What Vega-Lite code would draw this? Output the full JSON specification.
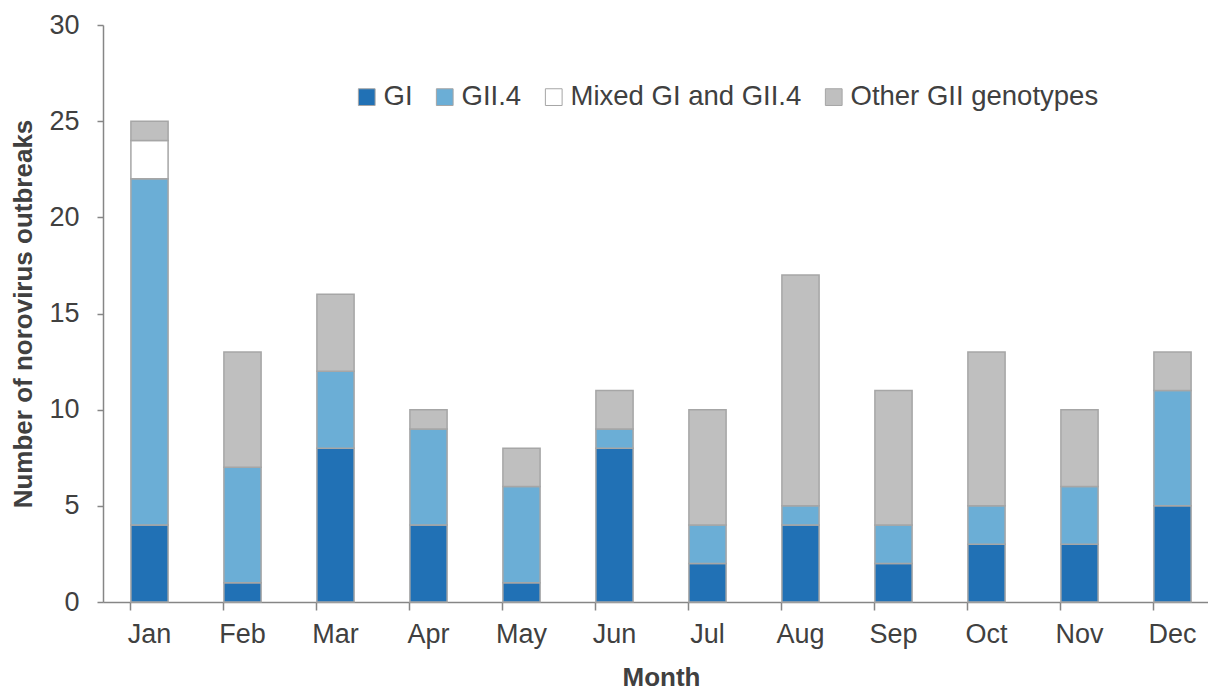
{
  "$schema": "https://vega.github.io/schema/vega-lite/v6.json",
  "autosize": {"type": "none"},
  "padding": {"left": 103, "top": 25, "right": 0, "bottom": 90},
  "width": 1105,
  "height": 577,
  "background": "white",
  "config": {
    "view": {"stroke": null},
    "font": "Liberation Sans",
    "axis": {"grid": false, "domainColor": "#868686", "tickColor": "#868686", "domainWidth": 1.5, "tickWidth": 1.5, "labelColor": "#404040", "titleColor": "#404040", "labelFontSize": 27, "titleFontSize": 26, "titleFontWeight": "bold", "labelFont": "Liberation Sans", "titleFont": "Liberation Sans"}
  },
  "data": {
    "values": [
      {"month": "Jan", "type": "GI", "n": 4},
      {"month": "Jan", "type": "GII.4", "n": 18},
      {"month": "Jan", "type": "Mixed GI and GII.4", "n": 2},
      {"month": "Jan", "type": "Other GII genotypes", "n": 1},
      {"month": "Feb", "type": "GI", "n": 1},
      {"month": "Feb", "type": "GII.4", "n": 6},
      {"month": "Feb", "type": "Other GII genotypes", "n": 6},
      {"month": "Mar", "type": "GI", "n": 8},
      {"month": "Mar", "type": "GII.4", "n": 4},
      {"month": "Mar", "type": "Other GII genotypes", "n": 4},
      {"month": "Apr", "type": "GI", "n": 4},
      {"month": "Apr", "type": "GII.4", "n": 5},
      {"month": "Apr", "type": "Other GII genotypes", "n": 1},
      {"month": "May", "type": "GI", "n": 1},
      {"month": "May", "type": "GII.4", "n": 5},
      {"month": "May", "type": "Other GII genotypes", "n": 2},
      {"month": "Jun", "type": "GI", "n": 8},
      {"month": "Jun", "type": "GII.4", "n": 1},
      {"month": "Jun", "type": "Other GII genotypes", "n": 2},
      {"month": "Jul", "type": "GI", "n": 2},
      {"month": "Jul", "type": "GII.4", "n": 2},
      {"month": "Jul", "type": "Other GII genotypes", "n": 6},
      {"month": "Aug", "type": "GI", "n": 4},
      {"month": "Aug", "type": "GII.4", "n": 1},
      {"month": "Aug", "type": "Other GII genotypes", "n": 12},
      {"month": "Sep", "type": "GI", "n": 2},
      {"month": "Sep", "type": "GII.4", "n": 2},
      {"month": "Sep", "type": "Other GII genotypes", "n": 7},
      {"month": "Oct", "type": "GI", "n": 3},
      {"month": "Oct", "type": "GII.4", "n": 2},
      {"month": "Oct", "type": "Other GII genotypes", "n": 8},
      {"month": "Nov", "type": "GI", "n": 3},
      {"month": "Nov", "type": "GII.4", "n": 3},
      {"month": "Nov", "type": "Other GII genotypes", "n": 4},
      {"month": "Dec", "type": "GI", "n": 5},
      {"month": "Dec", "type": "GII.4", "n": 6},
      {"month": "Dec", "type": "Other GII genotypes", "n": 2}
    ]
  },
  "mark": {"type": "bar", "stroke": "#A6A6A6", "strokeWidth": 1.5},
  "encoding": {
    "x": {
      "field": "month", "type": "nominal",
      "sort": ["Jan","Feb","Mar","Apr","May","Jun","Jul","Aug","Sep","Oct","Nov","Dec"],
      "scale": {"range": [0, 1116], "paddingInner": 0.6, "paddingOuter": 0.3},
      "axis": {"title": "Month", "labelAngle": 0, "bandPosition": 0, "tickSize": 8, "labelPadding": 11, "titlePadding": 17}
    },
    "y": {
      "field": "n", "type": "quantitative", "stack": "zero",
      "scale": {"domain": [0, 30]},
      "axis": {"title": "Number of norovirus outbreaks", "values": [0,5,10,15,20,25,30], "tickSize": 6, "labelPadding": 18, "titlePadding": 12}
    },
    "order": {"field": "type", "sort": "ascending"},
    "color": {
      "field": "type", "type": "nominal",
      "scale": {"domain": ["GI", "GII.4", "Mixed GI and GII.4", "Other GII genotypes"], "range": ["#2171B5", "#6BAED6", "#FFFFFF", "#BFBFBF"]},
      "legend": {"title": null, "orient": "none", "direction": "horizontal", "legendX": 250, "legendY": 58, "symbolType": "square", "symbolSize": 280, "symbolStrokeColor": "#A6A6A6", "symbolStrokeWidth": 1, "labelFontSize": 27.5, "labelColor": "#404040", "labelFont": "Liberation Sans", "labelOffset": 3, "labelLimit": 0, "columnPadding": 18, "padding": 0}
    }
  }
}
